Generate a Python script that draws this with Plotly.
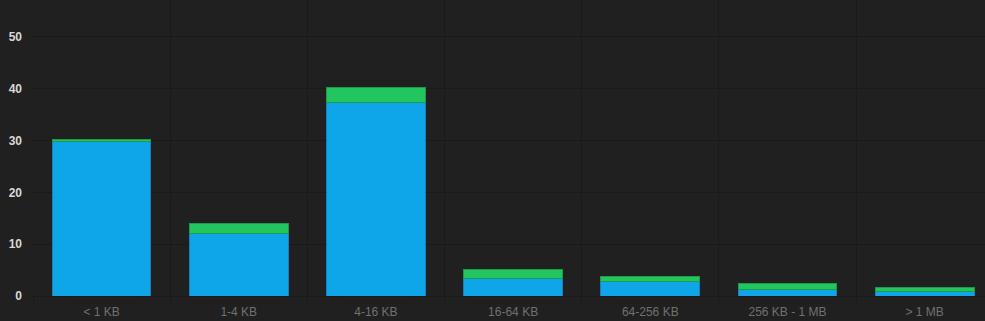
import plotly.graph_objects as go

categories = ["< 1 KB", "1-4 KB", "4-16 KB", "16-64 KB", "64-256 KB", "256 KB - 1 MB", "> 1 MB"]
blue_values = [29.9, 12.0, 37.4, 3.4, 2.85, 1.3, 0.9]
green_values = [0.4, 2.0, 2.8, 1.75, 0.95, 1.15, 0.65]
y_ticks = [0, 10, 20, 30, 40, 50]

BG = "#202020"
GRID = "#1a1a1a"

fig = go.Figure()
fig.add_trace(go.Bar(x=categories, y=blue_values, marker=dict(color="#0ea5e9", line=dict(color="#1880b8", width=1)), showlegend=False))
fig.add_trace(go.Bar(x=categories, y=green_values, marker=dict(color="#22c55e", line=dict(color="#1e9a4c", width=1)), showlegend=False))

fig.update_layout(
    barmode="stack",
    bargap=0.28,
    width=985, height=321,
    margin=dict(l=33, r=0, t=0, b=25),
    paper_bgcolor=BG, plot_bgcolor=BG,
    font=dict(family="Liberation Sans, Arial, sans-serif"),
    xaxis=dict(
        type="category",
        range=[-0.5, 6.44],
        tickson="boundaries",
        ticks="outside", ticklen=7, tickcolor=GRID, tickwidth=1,
        showgrid=True, gridcolor=GRID, gridwidth=1,
        tickfont=dict(color="#707070", size=12),
        ticklabelstandoff=7,
        showline=False, zeroline=False,
    ),
    yaxis=dict(
        range=[0, 57.14],
        tickvals=y_ticks,
        showgrid=True, gridcolor=GRID, gridwidth=1,
        zeroline=True, zerolinecolor=GRID, zerolinewidth=1,
        tickfont=dict(color="#d8d8d8", size=12, weight="bold"),
        ticks="", ticklabelstandoff=10,
        showline=False,
    ),
)

fig.write_html("out.html")
